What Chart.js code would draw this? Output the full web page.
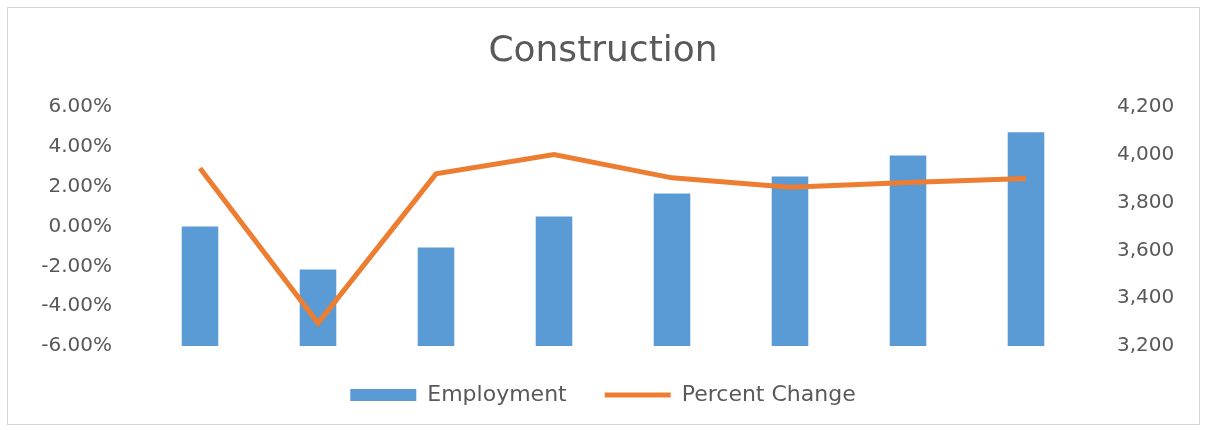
<!DOCTYPE html>
<html>
<head>
<meta charset="utf-8">
<script src="https://cdn.jsdelivr.net/npm/chart.js@4/dist/chart.umd.min.js"></script>
<style>
  body { margin: 0; background: #fff; }
  #wrap { position: relative; width: 1206px; height: 430px; }
  #frame { position: absolute; left: 7px; top: 7px; width: 1191px; height: 416px; border: 1px solid #d4d4d4; }
  canvas { position: absolute; left: 0; top: 0; }
</style>
</head>
<body>
<div id="wrap">
  <div id="frame"></div>
  <canvas id="myChart" width="1206" height="430"></canvas>
</div>
<script>
// values
const periods = ["1", "2", "3", "4", "5", "6", "7", "8"];
const employment = [3700, 3520, 3612, 3742, 3839, 3910, 3998, 4095];
const percentChange = [2.93, -4.85, 2.65, 3.62, 2.45, 1.98, 2.22, 2.42];

const grey = "#595959";
const font = "'DejaVu Sans', sans-serif";

const ctx = document.getElementById("myChart").getContext("2d");

new Chart(ctx, {
  type: "bar",
  data: {
    labels: periods,
    datasets: [
      {
        type: "bar",
        label: "Employment",
        data: employment,
        backgroundColor: "#5B9BD5",
        yAxisID: "y1",
        order: 1,
        barPercentage: 0.31,
        categoryPercentage: 1,
      },
      {
        type: "line",
        label: "Percent Change",
        data: percentChange,
        borderColor: "#ED7D31",
        backgroundColor: "#ED7D31",
        borderWidth: 5,
        pointRadius: 0,
        tension: 0,
        yAxisID: "y",
        order: 0,
      },
    ],
  },
  options: {
    responsive: false,
    animation: false,
    layout: { padding: { top: 0, bottom: 14, left: 0, right: 0 } },
    plugins: {
      tooltip: { enabled: false },
      title: {
        display: true,
        text: "Construction",
        color: grey,
        font: { family: font, size: 36, weight: "normal" },
        padding: { top: 30, bottom: 34 },
      },
      legend: {
        position: "bottom",
        labels: {
          color: grey,
          font: { family: font, size: 22 },
          usePointStyle: true,
          pointStyleWidth: 66,
          boxHeight: 12,
          padding: 38,
          sort: (a, b) => a.datasetIndex - b.datasetIndex,
          generateLabels: (chart) => chart.data.datasets.map((ds, i) => ({
            text: ds.label,
            fillStyle: ds.type === "bar" ? ds.backgroundColor : "transparent",
            strokeStyle: ds.type === "bar" ? ds.backgroundColor : ds.borderColor,
            lineWidth: ds.type === "bar" ? 0 : 5,
            pointStyle: ds.type === "bar" ? "rect" : "line",
            fontColor: grey,
            datasetIndex: i,
          })),
        },
      },
    },
    scales: {
      x: {
        grid: { display: false, drawTicks: false },
        border: { display: false },
        ticks: { display: false },
        afterFit: (scale) => { scale.height = 0; },
      },
      y: {
        position: "left",
        min: -6,
        max: 6,
        grid: { display: false, drawTicks: false },
        border: { display: false },
        ticks: {
          stepSize: 2,
          padding: 29,
          color: grey,
          font: { family: font, size: 20 },
          callback: (v) => v.toFixed(2) + "%",
        },
        afterFit: (scale) => { scale.width = 141; },
      },
      y1: {
        position: "right",
        min: 3200,
        max: 4200,
        grid: { display: false, drawTicks: false },
        border: { display: false },
        ticks: {
          stepSize: 200,
          padding: 32,
          color: grey,
          font: { family: font, size: 20 },
          callback: (v) => v.toLocaleString("en-US"),
        },
        afterFit: (scale) => { scale.width = 121; },
      },
    },
  },
});
</script>
</body>
</html>
